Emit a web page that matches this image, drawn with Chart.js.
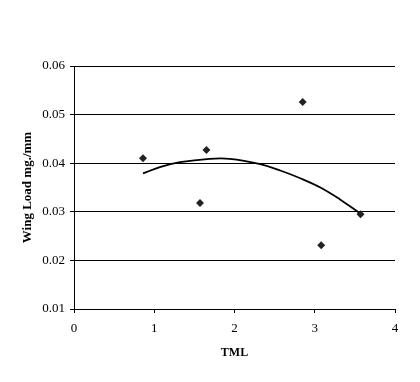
<!DOCTYPE html>
<html>
<head>
<meta charset="utf-8">
<script src="https://cdn.jsdelivr.net/npm/chart.js@4"></script>
<style>
  html, body { margin: 0; padding: 0; background: #fff; }
  #wrap { width: 420px; height: 382px; }
</style>
</head>
<body>
<div id="wrap"><canvas id="c" width="420" height="382"></canvas></div>
<script>
// Observed data points (TML vs Wing Load)
const tmlValues = [0.86, 1.57, 1.65, 2.85, 3.08, 3.57];
const wingLoadValues = [0.0410, 0.0318, 0.0427, 0.0526, 0.0231, 0.0295];

// Trendline (polynomial)
const trendX = [0.86, 1.07, 1.32, 1.69, 1.94, 2.32, 2.57, 2.82, 3.07, 3.31, 3.57];
const trendY = [0.0379, 0.0392, 0.0402, 0.0409, 0.0409, 0.0398, 0.0385, 0.0369, 0.0350, 0.0326, 0.0296];

const xTicks = [0, 1, 2, 3, 4];
const yTicks = [0.01, 0.02, 0.03, 0.04, 0.05, 0.06];

const xTitle = 'TML';
const yTitle = 'Wing Load mg./mm';

const points = tmlValues.map((x, i) => ({ x: x, y: wingLoadValues[i] }));
const trend = trendX.map((x, i) => ({ x: x, y: trendY[i] }));

const serif = '"Liberation Serif", "Times New Roman", serif';

new Chart(document.getElementById('c'), {
  type: 'scatter',
  data: {
    datasets: [
      {
        label: 'Data',
        data: points,
        pointStyle: 'rectRot',
        pointRadius: 4,
        pointBackgroundColor: '#222',
        pointBorderColor: '#222',
        pointBorderWidth: 0,
        showLine: false,
        order: 1
      },
      {
        label: 'Trend',
        data: trend,
        showLine: true,
        borderColor: '#000',
        borderWidth: 1.8,
        pointRadius: 0,
        tension: 0.4,
        fill: false,
        order: 2
      }
    ]
  },
  options: {
    responsive: false,
    animation: false,
    devicePixelRatio: 1,
    layout: { padding: { top: 66, right: 25, left: 0, bottom: 0 } },
    plugins: { legend: { display: false }, tooltip: { enabled: false } },
    scales: {
      x: {
        type: 'linear',
        min: 0, max: 4,
        afterBuildTicks: (axis) => { axis.ticks = xTicks.map(v => ({ value: v })); },
        afterFit: (axis) => { axis.height = 73; },
        grid: { display: true, drawOnChartArea: false, drawTicks: true, tickLength: 4, color: '#000', lineWidth: 1 },
        border: { display: true, color: '#000', width: 1 },
        ticks: { color: '#000', padding: 8, font: { family: serif, size: 13 }, callback: v => String(v) },
        title: { display: true, text: xTitle, color: '#000', font: { family: serif, size: 12, weight: 'bold' }, padding: { top: 0, bottom: 22 } }
      },
      y: {
        type: 'linear',
        min: 0.01, max: 0.06,
        afterBuildTicks: (axis) => { axis.ticks = yTicks.map(v => ({ value: v })); },
        afterFit: (axis) => { axis.width = 74; },
        grid: { display: true, drawOnChartArea: true, drawTicks: true, tickLength: 4, color: '#000', lineWidth: 1 },
        border: { display: true, color: '#000', width: 1 },
        ticks: { color: '#000', padding: 5, font: { family: serif, size: 13 }, callback: v => Number(v).toFixed(2) },
        title: { display: true, text: yTitle, color: '#000', font: { family: serif, size: 13, weight: 'bold' }, padding: { top: 20, bottom: 0 } }
      }
    }
  },
  plugins: [{
    id: 'bg',
    beforeDraw: (chart) => {
      const ctx = chart.ctx;
      ctx.save();
      ctx.fillStyle = '#fff';
      ctx.fillRect(0, 0, chart.width, chart.height);
      ctx.restore();
    }
  }]
});
</script>
</body>
</html>
